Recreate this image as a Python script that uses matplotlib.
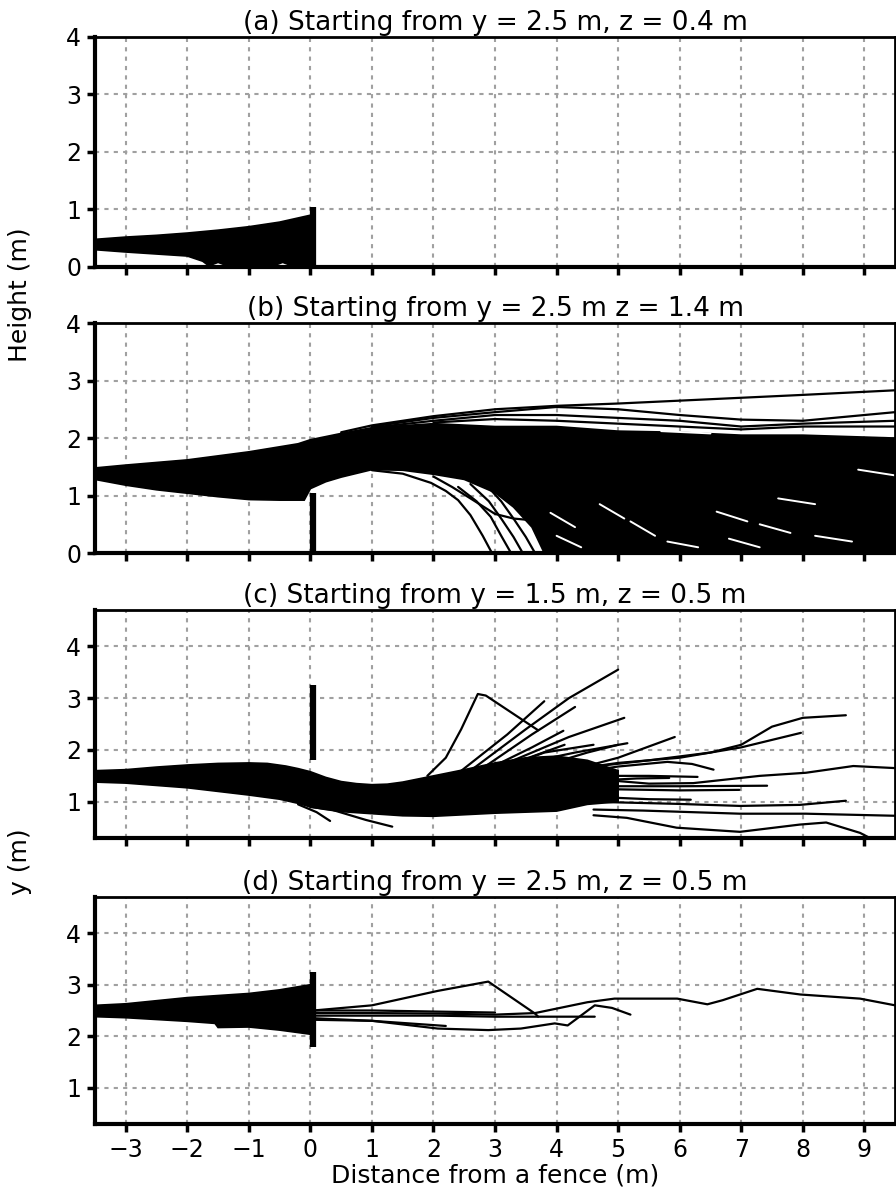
import numpy as np
import matplotlib
matplotlib.use("Agg")
import matplotlib.pyplot as plt

# ---- panel settings ----
titles = ["(a) Starting from y = 2.5 m, z = 0.4 m",
          "(b) Starting from y = 2.5 m z = 1.4 m",
          "(c) Starting from y = 1.5 m, z = 0.5 m",
          "(d) Starting from y = 2.5 m, z = 0.5 m"]
xticks = [-3, -2, -1, 0, 1, 2, 3, 4, 5, 6, 7, 8, 9]
yticks_ab = [0, 1, 2, 3, 4]
yticks_cd = [1, 2, 3, 4]
fence_x = 0.05
fence_ab = (0.0, 1.05)
fence_cd = (1.8, 3.25)

# ---- (a) dense band envelope ----
a_up_x = [-3.5, -3, -2.5, -2, -1.5, -1, -0.5, 0.0]
a_up_y = [0.48, 0.52, 0.55, 0.59, 0.64, 0.70, 0.78, 0.90]
a_lo_x = [-3.5, -3, -2, -1.75, -1.65, -1.5, -1.35, -1.0, -0.6, -0.45, -0.3, 0.0]
a_lo_y = [0.30, 0.26, 0.19, 0.10, 0.02, 0.08, 0.02, 0.04, 0.02, 0.08, 0.02, 0.02]

# ---- (b) dense band envelope ----
b_up_x = [-3.5, -3, -2, -1, -0.2, 0.0, 0.5, 1, 2, 3, 4, 5, 6, 7, 8, 9.5]
b_up_y = [1.48, 1.53, 1.62, 1.76, 1.90, 1.97, 2.08, 2.18, 2.25, 2.2, 2.2, 2.12, 2.1, 2.05, 2.05, 2.0]
b_lo_x = [-3.5, -3, -2.5, -2, -1.5, -1, -0.5, -0.1, 0.0, 0.25, 0.5, 1, 1.5, 2, 2.5, 3.0, 3.3, 3.6, 3.8, 9.5]
b_lo_y = [1.28, 1.18, 1.1, 1.04, 0.98, 0.93, 0.92, 0.92, 1.12, 1.24, 1.32, 1.45, 1.44, 1.37, 1.28, 1.05, 0.8, 0.45, 0.0, 0.0]
b_lines = [
    [(0.5, 2.1), (1, 2.22), (2, 2.38), (3, 2.5), (4, 2.56), (5, 2.6), (6, 2.65), (7, 2.7), (8, 2.75), (9.5, 2.83)],
    [(1, 2.2), (2, 2.35), (3, 2.45), (4, 2.54), (5, 2.5), (6, 2.4), (7, 2.32), (8, 2.3), (9.5, 2.45)],
    [(1, 2.18), (2, 2.3), (3, 2.4), (4, 2.4), (5, 2.35), (6, 2.3), (7, 2.2), (8, 2.25), (9.5, 2.3)],
    [(2, 2.27), (3, 2.33), (4, 2.3), (5, 2.25), (6, 2.2), (7, 2.15), (8, 2.2), (9.5, 2.2)],
    [(1.0, 1.44), (1.5, 1.38), (1.96, 1.22), (2.2, 1.08), (2.4, 0.92), (2.6, 0.66), (2.8, 0.3), (2.95, 0.0)],
    [(2.0, 1.33), (2.3, 1.15), (2.6, 0.95), (3.0, 0.68), (3.3, 0.6), (3.8, 0.55)],
    [(2.4, 1.15), (2.7, 0.9), (2.93, 0.63), (3.1, 0.3), (3.26, 0.0)],
    [(2.6, 1.2), (2.9, 0.9), (3.1, 0.6), (3.3, 0.28), (3.45, 0.0)],
    [(2.8, 1.25), (3.1, 0.9), (3.3, 0.6), (3.5, 0.28), (3.65, 0.0)],
]
# white gaps between trajectories in the dense lower part of (b)
b_gaps = [
    [(3.9, 0.7), (4.3, 0.45)], [(4.0, 0.3), (4.4, 0.1)], [(4.7, 0.85), (5.1, 0.6)],
    [(5.2, 0.55), (5.6, 0.3)], [(5.8, 0.2), (6.3, 0.1)], [(6.6, 0.72), (7.1, 0.55)],
    [(6.8, 0.25), (7.3, 0.1)], [(7.3, 0.5), (7.8, 0.35)], [(8.2, 0.3), (8.8, 0.2)],
    [(8.9, 1.45), (9.5, 1.35)], [(5.7, 2.12), (6.5, 2.08)], [(7.6, 0.95), (8.2, 0.85)],
]

# ---- (c) dense band envelope ----
c_up_x = [-3.5, -3, -2.5, -2, -1.5, -1, -0.7, -0.4, -0.2, 0, 0.25, 0.5, 0.75, 1, 1.25, 1.5, 2, 2.5, 3, 3.5, 4, 4.5, 5]
c_up_y = [1.6, 1.62, 1.67, 1.71, 1.74, 1.75, 1.74, 1.69, 1.64, 1.58, 1.47, 1.39, 1.35, 1.33, 1.34, 1.38,
          1.5, 1.62, 1.75, 1.85, 1.88, 1.8, 1.6]
c_lo_x = [-3.5, -3, -2, -1, -0.5, -0.2, 0, 0.25, 0.5, 1, 1.5, 2, 3, 4, 4.5, 5]
c_lo_y = [1.38, 1.36, 1.27, 1.13, 1.05, 0.97, 0.9, 0.85, 0.81, 0.77, 0.73, 0.72, 0.78, 0.82, 0.95, 1.0]
c_lines = [
    [(1.9, 1.5), (2.2, 1.85), (2.45, 2.4), (2.72, 3.08), (2.85, 3.05), (3.7, 2.38)],
    [(2.6, 1.6), (3.5, 2.4), (4.2, 3.0), (5.0, 3.55)],
    [(2.4, 1.55), (3.2, 2.3), (3.8, 2.94)],
    [(2.8, 1.65), (3.6, 2.3), (4.3, 2.83)],
    [(3.0, 1.7), (3.6, 2.05), (4.11, 2.37)],
    [(3.2, 1.75), (4.2, 2.25), (5.1, 2.62)],
    [(3.2, 1.7), (4.13, 2.1)],
    [(3.5, 1.75), (4.3, 1.95), (5.15, 2.13)],
    [(4.2, 1.6), (5.0, 1.85), (5.92, 2.25)],
    [(3.8, 1.7), (4.5, 1.95), (5.0, 2.1)],
    [(3.0, 1.6), (3.8, 1.95), (4.6, 2.1)],
    [(3.5, 1.5), (5.0, 1.75), (6.0, 1.85), (6.5, 1.95), (7.0, 2.1), (7.5, 2.45), (8.0, 2.62), (8.7, 2.67)],
    [(4.0, 1.6), (5.5, 1.8), (6.5, 1.95), (7.0, 2.05), (7.97, 2.33)],
    [(4.0, 1.5), (5.0, 1.68), (5.8, 1.77), (6.2, 1.73), (6.55, 1.62)],
    [(4.5, 1.45), (5.5, 1.35), (6.22, 1.36), (7.3, 1.5), (8.05, 1.56), (8.82, 1.69), (9.5, 1.65)],
    [(4.5, 1.3), (6.0, 1.3), (7.42, 1.31)],
    [(4.5, 1.25), (6.0, 1.22), (6.97, 1.23)],
    [(4.5, 1.1), (5.5, 1.05), (6.18, 1.04)],
    [(4.5, 1.4), (5.3, 1.45), (5.83, 1.46)],
    [(4.5, 1.5), (5.5, 1.5), (6.29, 1.48)],
    [(4.6, 1.0), (5.95, 0.96), (6.98, 0.92), (7.95, 0.94), (8.7, 1.02)],
    [(4.6, 0.85), (5.41, 0.83), (6.98, 0.77), (8.05, 0.77), (9.5, 0.73)],
    [(4.6, 0.74), (5.14, 0.69), (5.95, 0.5), (6.98, 0.42), (7.95, 0.56), (8.38, 0.6), (8.93, 0.4), (9.5, 0.05)],
    [(-0.2, 0.95), (0.1, 0.8), (0.32, 0.63)],
    [(0.0, 0.9), (0.34, 0.85), (0.9, 0.65), (1.33, 0.52)],
]

# ---- (d) dense band envelope ----
d_up_x = [-3.5, -3, -2, -1, -0.5, 0.0]
d_up_y = [2.6, 2.63, 2.75, 2.83, 2.9, 3.0]
d_lo_x = [-3.5, -3, -2, -1.55, -1.5, -1.0, -0.5, 0.0]
d_lo_y = [2.38, 2.36, 2.29, 2.25, 2.17, 2.18, 2.12, 2.04]
d_lines = [
    [(0.05, 2.5), (1.0, 2.6), (2.07, 2.88), (2.89, 3.06), (3.65, 2.44), (3.7, 2.38)],
    [(0.05, 2.45), (1.0, 2.45), (2.07, 2.44), (3.0, 2.42), (3.65, 2.45), (4.5, 2.66), (4.94, 2.73),
     (5.96, 2.73), (6.45, 2.62), (6.7, 2.7), (7.26, 2.92), (7.96, 2.81), (8.93, 2.73), (9.5, 2.6)],
    [(0.05, 2.4), (1.0, 2.4), (2.07, 2.4), (3.0, 2.38), (4.62, 2.38)],
    [(0.05, 2.35), (1.0, 2.3), (2.07, 2.15), (2.89, 2.12), (3.42, 2.15), (3.97, 2.25), (4.18, 2.21),
     (4.62, 2.6), (4.9, 2.55), (5.2, 2.42)],
    [(0.05, 2.5), (1.0, 2.5), (2.0, 2.48), (3.0, 2.46)],
    [(0.05, 2.32), (1.0, 2.3), (2.2, 2.2)],
]

plt.rcParams['font.family'] = 'DejaVu Sans'

fig = plt.figure(figsize=(8.96, 11.95), dpi=100)
boxes = [[0.106, 0.7766, 0.893, 0.1925],
         [0.106, 0.5372, 0.893, 0.1925],
         [0.106, 0.2987, 0.893, 0.1908],
         [0.106, 0.0594, 0.893, 0.1900]]
axs = [fig.add_axes(b) for b in boxes]


def band(ax, ux, uy, lx, ly):
    px = list(ux) + list(lx)[::-1]
    py = list(uy) + list(ly)[::-1]
    ax.fill(px, py, color='k', lw=1.2, ec='k')


def trajs(ax, lines, color='k', lw=1.6):
    for ln in lines:
        xs = [p[0] for p in ln]
        ys = [p[1] for p in ln]
        ax.plot(xs, ys, color=color, lw=lw, solid_capstyle='round')


band(axs[0], a_up_x, a_up_y, a_lo_x, a_lo_y)
band(axs[1], b_up_x, b_up_y, b_lo_x, b_lo_y)
trajs(axs[1], b_lines)
trajs(axs[1], b_gaps, color='w', lw=1.4)
band(axs[2], c_up_x, c_up_y, c_lo_x, c_lo_y)
trajs(axs[2], c_lines)
band(axs[3], d_up_x, d_up_y, d_lo_x, d_lo_y)
trajs(axs[3], d_lines)

for i, ax in enumerate(axs):
    ax.set_xlim(-3.5, 9.5)
    if i < 2:
        ax.set_ylim(0, 4)
        ax.set_yticks(yticks_ab)
        ax.vlines(fence_x, *fence_ab, color='k', lw=4.5, zorder=5)
    else:
        ax.set_ylim(0.3, 4.7)
        ax.set_yticks(yticks_cd)
        ax.vlines(fence_x, *fence_cd, color='k', lw=4.5, zorder=5)
    ax.set_xticks(xticks)
    ax.grid(True, color='#a0a0a0', ls=(0, (2, 2.5)), lw=1.5)
    ax.set_axisbelow(True)
    ax.spines['left'].set_linewidth(3)
    ax.spines['bottom'].set_linewidth(3)
    ax.spines['top'].set_linewidth(2)
    ax.spines['right'].set_linewidth(2)
    ax.tick_params(direction='out', length=6, width=2.5, labelsize=17, pad=4)
    if i < 3:
        ax.tick_params(labelbottom=False)
    ax.set_title(titles[i], fontsize=19, pad=5)

axs[3].set_xticklabels([str(t).replace('-', '\u2212') for t in xticks])
axs[3].set_xlabel("Distance from a fence (m)", fontsize=18, labelpad=1)
fig.text(0.022, 1 - 295 / 1195, "Height (m)", rotation=90, fontsize=18, ha='center', va='center')
fig.text(0.022, 1 - 862 / 1195, "y (m)", rotation=90, fontsize=18, ha='center', va='center')

fig.savefig("out.png", dpi=100)
